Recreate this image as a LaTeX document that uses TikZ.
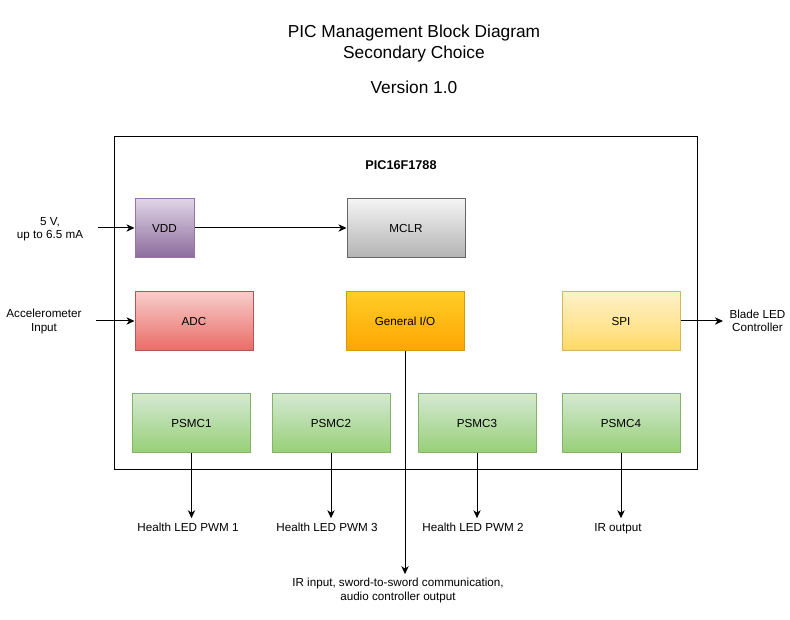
\documentclass[tikz,border=0pt]{standalone}
\usepackage{fontspec}
\setmainfont{Liberation Sans}
\usetikzlibrary{arrows.meta}

\definecolor{vddtop}{HTML}{E1D5E7}
\definecolor{vddbot}{HTML}{8C6C9C}
\definecolor{vddline}{HTML}{9673A6}
\definecolor{grytop}{HTML}{F5F5F5}
\definecolor{grybot}{HTML}{B3B3B3}
\definecolor{gryline}{HTML}{666666}
\definecolor{redtop}{HTML}{F8CECC}
\definecolor{redbot}{HTML}{EA6B66}
\definecolor{redline}{HTML}{B85450}
\definecolor{orgtop}{HTML}{FFCD28}
\definecolor{orgbot}{HTML}{FFA500}
\definecolor{orgline}{HTML}{D79B00}
\definecolor{ylwtop}{HTML}{FFF2CC}
\definecolor{ylwbot}{HTML}{FFD966}
\definecolor{ylwline}{HTML}{D6B656}
\definecolor{grntop}{HTML}{D5E8D4}
\definecolor{grnbot}{HTML}{97D077}
\definecolor{grnline}{HTML}{82B366}

\begin{document}
\begin{tikzpicture}[x=0.75pt, y=-0.75pt,
        font=\fontsize{8.75}{10}\selectfont,
        block/.style={draw, line width=0.75pt, minimum width=88.5pt, minimum height=44.5pt, inner sep=0pt},
        conn/.style={line width=0.75pt, -{Stealth[length=6pt, width=5.5pt, inset=1.8pt]}},
        lbl/.style={align=center, inner sep=1pt},
        outlbl/.style={align=center, inner sep=3pt, text height=6.5pt, text depth=1.8pt}]

        \useasboundingbox (0,0) rectangle (790,620);

        \coordinate (P) at (114,137);
        \coordinate (Q) at (697,470);
        \coordinate (pwrin) at (98,228);
        \coordinate (accin) at (96,321);
        \coordinate (bladein) at (723,321);

        \draw[line width=0.75pt] (P) rectangle (Q);

        \node[lbl, font=\fontsize{13}{15.75}\selectfont] (title) at (414,43.5) {PIC Management Block Diagram\\Secondary Choice};
        \node[lbl, font=\fontsize{13}{15.75}\selectfont] (version) at (414,87) {Version 1.0};
        \node[lbl, font=\fontsize{9.5}{11}\selectfont\bfseries] (chip) at (401,165) {PIC16F1788};

        \node[block, minimum width=44.25pt, draw=vddline, top color=vddtop, bottom color=vddbot] (vdd) at (164.5,228) {VDD};
        \node[block, draw=gryline, top color=grytop, bottom color=grybot] (mclr) at (406,228) {MCLR};
        \node[block, draw=redline, top color=redtop, bottom color=redbot] (adc) at (194,321) {ADC};
        \node[block, draw=orgline, top color=orgtop, bottom color=orgbot] (gio) at (405,321) {General I/O};
        \node[block, draw=ylwline, top color=ylwtop, bottom color=ylwbot] (spi) at (621,321) {SPI};

        \node[block, draw=grnline, top color=grntop, bottom color=grnbot] (psmc1) at (191.5,423) {PSMC1};
        \node[block, draw=grnline, top color=grntop, bottom color=grnbot] (psmc2) at (331,423) {PSMC2};
        \node[block, draw=grnline, top color=grntop, bottom color=grnbot] (psmc3) at (477,423) {PSMC3};
        \node[block, draw=grnline, top color=grntop, bottom color=grnbot] (psmc4) at (621,423) {PSMC4};

        \node[lbl] (pwr) at (50,229) {5 V,\\up to 6.5 mA};
        \node[lbl] (acc) at (44,321.5) {Accelerometer\\Input};
        \node[lbl] (blade) at (757.5,321) {Blade LED\\Controller};

        \node[outlbl] (pwm1) at (188,528) {Health LED PWM 1};
        \node[outlbl] (pwm3) at (327,528) {Health LED PWM 3};
        \node[outlbl] (pwm2) at (473,528) {Health LED PWM 2};
        \node[outlbl] (irout) at (618,528) {IR output};
        \node[lbl, inner sep=3pt] (irin) at (398,590.5) {IR input, sword-to-sword communication,\\audio controller output};

        \draw[conn] (pwrin) -- (vdd.west);
        \draw[conn] (accin) -- (adc.west);
        \draw[conn] (vdd.east) -- (mclr.west);
        \draw[conn] (spi.east) -- (bladein);

        \draw[conn] (psmc1.south) -- (psmc1.south |- pwm1.north);
        \draw[conn] (psmc2.south) -- (psmc2.south |- pwm3.north);
        \draw[conn] (psmc3.south) -- (psmc3.south |- pwm2.north);
        \draw[conn] (psmc4.south) -- (psmc4.south |- irout.north);
        \draw[conn] (gio.south) -- (gio.south |- irin.north);

    \end{tikzpicture}
\end{document}
